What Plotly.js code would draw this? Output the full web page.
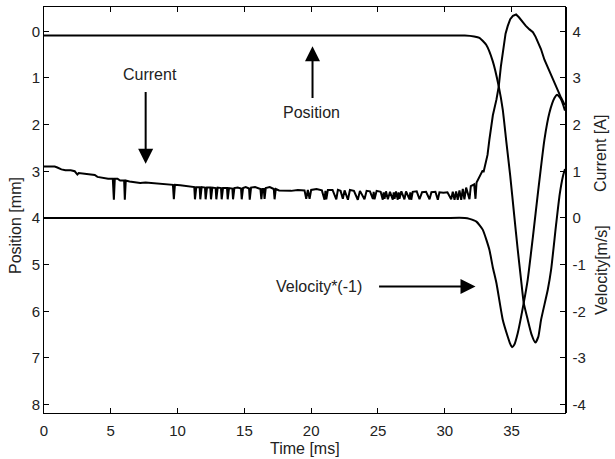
<!DOCTYPE html>
<html>
<head>
<meta charset="utf-8">
<script src="https://cdn.plot.ly/plotly-3.0.1.min.js"></script>
<style>html,body{margin:0;padding:0;background:#fff;}#chart{width:615px;height:459px;}</style>
</head>
<body>
<div id="chart"></div>
<script>
// Position [mm] (left axis, reversed)
const posTime = [0, 5, 10, 15, 20, 25, 30, 31.5, 32.2, 32.6, 33.1, 33.59, 34.04, 34.34, 34.59, 34.9, 35.2, 35.45, 35.71, 35.91, 36.21, 36.5, 36.78, 37.0, 37.21, 37.71, 37.96, 38.33, 38.6, 38.85, 39.0];
const posVal  = [0.09, 0.09, 0.09, 0.09, 0.09, 0.09, 0.09, 0.09, 0.11, 0.14, 0.29, 0.64, 1.18, 1.68, 2.32, 3.1, 3.95, 4.65, 5.32, 5.82, 6.18, 6.5, 6.67, 6.55, 6.18, 5.54, 5.11, 4.15, 3.5, 3.1, 2.95];

// Current [A] (right axis): [time ms, current A]
const currentPoints = [
  [0.0,1.10],[0.8,1.10],[1.0,1.08],[1.3,1.04],[1.6,1.02],[2.0,1.02],[2.3,1.00],[2.5,0.93],[2.6,0.96],[2.9,0.95],
  [3.2,0.94],[3.5,0.92],[3.8,0.92],[4.0,0.88],[4.4,0.86],[4.8,0.84],[5.15,0.84],[5.23,0.39],[5.3,0.84],[5.5,0.84],
  [5.7,0.80],[6.0,0.80],[6.05,0.39],[6.12,0.80],[6.4,0.78],[6.8,0.77],[7.2,0.75],[7.6,0.76],[8.0,0.75],[8.4,0.73],
  [8.8,0.73],[9.2,0.72],[9.65,0.71],[9.72,0.40],[9.8,0.71],[10.2,0.70],[10.6,0.68],[11.0,0.67],
  [11.25,0.66],[11.3,0.40],[11.4,0.66],[11.65,0.66],[11.7,0.40],[11.8,0.66],[12.05,0.65],[12.1,0.40],[12.2,0.65],
  [12.45,0.65],[12.5,0.40],[12.6,0.65],[12.85,0.64],[12.9,0.40],[13.0,0.65],[13.25,0.64],[13.3,0.40],[13.4,0.64],
  [13.7,0.64],[13.75,0.40],[13.85,0.64],[14.1,0.63],[14.15,0.40],[14.25,0.64],[14.5,0.65],[14.75,0.63],[14.8,0.40],
  [14.9,0.64],[15.1,0.66],[15.35,0.63],[15.4,0.39],[15.5,0.65],[15.8,0.66],[16.2,0.62],[16.27,0.40],[16.35,0.62],
  [16.45,0.62],[16.51,0.41],[16.6,0.64],[16.9,0.66],[17.2,0.62],[17.26,0.40],[17.35,0.62],[17.6,0.59],[18.0,0.58],
  [18.5,0.58],[19.0,0.60],[19.5,0.59],[19.63,0.41],[19.75,0.60],[19.88,0.41],[20.0,0.60],[20.4,0.62],[20.8,0.59],
  [21.0,0.39],[21.07,0.58],[21.13,0.40],[21.25,0.60],[21.6,0.60],[21.88,0.40],[22.0,0.60],[22.2,0.58],[22.37,0.41],
  [22.5,0.59],[22.75,0.39],[22.9,0.60],[23.2,0.58],[23.49,0.39],[23.65,0.58],[23.99,0.40],[24.15,0.58],[24.4,0.57],
  [24.62,0.41],[24.68,0.56],[24.74,0.40],[24.9,0.58],[25.2,0.56],[25.36,0.39],[25.42,0.55],[25.49,0.41],[25.6,0.57],
  [25.74,0.40],[25.9,0.56],[26.11,0.39],[26.18,0.55],[26.24,0.41],[26.35,0.57],[26.48,0.39],[26.55,0.55],[26.61,0.41],
  [26.75,0.57],[26.98,0.40],[27.1,0.57],[27.36,0.40],[27.42,0.55],[27.49,0.39],[27.6,0.56],[27.9,0.57],[28.11,0.40],
  [28.3,0.55],[28.6,0.56],[28.86,0.40],[29.0,0.55],[29.3,0.56],[29.48,0.39],[29.6,0.55],[29.9,0.54],[30.2,0.55],
  [30.48,0.40],[30.6,0.56],[30.73,0.39],[30.85,0.57],[30.97,0.39],[31.1,0.59],[31.23,0.39],[31.35,0.62],[31.47,0.40],
  [31.6,0.65],[31.85,0.40],[31.95,0.68],[32.2,0.72],[32.3,0.41],[32.38,0.76],[32.6,0.88],[32.75,0.95],[32.84,1.02],
  [32.9,0.98],[33.0,1.12],[33.1,1.20],[33.2,1.35],[33.34,1.68],[33.6,2.20],[33.87,2.54],[34.04,2.82],[34.2,3.25],
  [34.39,3.68],[34.55,3.95],[34.71,4.11],[34.9,4.26],[35.1,4.33],[35.34,4.36],[35.55,4.30],[35.8,4.20],[36.05,4.12],
  [36.34,4.04],[36.6,3.98],[36.8,3.88],[36.96,3.79],[37.2,3.62],[37.46,3.39],[37.8,3.17],[38.08,2.97],[38.3,2.83],
  [38.45,2.71],[38.7,2.58],[38.9,2.47],[39.0,2.42]
];
const curTime = currentPoints.map(p => p[0]);
const curVal  = currentPoints.map(p => p[1]);

// Velocity*(-1) [m/s] (right axis)
const velTime = [0, 5, 10, 15, 20, 25, 30, 31.5, 31.86, 32.37, 32.84, 33.34, 33.59, 33.87, 34.34, 34.71, 34.9, 35.04, 35.2, 35.46, 35.91, 36.21, 36.6, 37.0, 37.46, 37.83, 38.21, 38.41, 38.71, 38.9, 39.0];
const velVal  = [0, 0, 0, 0, 0, 0, 0, 0, -0.02, -0.08, -0.25, -0.68, -1.05, -1.4, -2.18, -2.54, -2.7, -2.77, -2.72, -2.47, -1.82, -1.32, -0.4, 0.6, 1.68, 2.25, 2.57, 2.64, 2.54, 2.39, 2.3];

const leftTicks = [0,1,2,3,4,5,6,7,8];
const rightTicks = [4,3,2,1,0,-1,-2,-3,-4];
const xTicks = [0,5,10,15,20,25,30,35];

const F = 'Liberation Sans, Arial, sans-serif';
const TC = '#222';
const tickF = {family:F, size:15, color:TC};
const textF = {family:F, size:16, color:TC};

const traces = [
  {x: posTime, y: posVal, mode:'lines', line:{color:'#000', width:2, shape:'spline', smoothing:0.5}, yaxis:'y', hoverinfo:'skip'},
  {x: curTime, y: curVal, mode:'lines', line:{color:'#000', width:2}, yaxis:'y2', hoverinfo:'skip'},
  {x: velTime, y: velVal, mode:'lines', line:{color:'#000', width:2, shape:'spline', smoothing:0.5}, yaxis:'y2', hoverinfo:'skip'}
];

function px2x(px){ return (px-44)/521; }
function py2y(py){ return (413-py)/406; }

const layout = {
  width: 615, height: 459,
  margin: {l:44, r:50, t:7, b:46},
  paper_bgcolor:'#fff', plot_bgcolor:'#fff',
  showlegend:false,
  font:tickF,
  xaxis:{range:[0,39], tickvals:xTicks, ticktext:xTicks.map(String), ticks:'inside', ticklen:5, tickcolor:'#000',
    showline:true, linecolor:'#000', linewidth:1, mirror:'ticks', showgrid:false, zeroline:false, tickfont:tickF, ticklabelstandoff:4},
  yaxis:{range:[8.18,-0.52], tickvals:leftTicks, ticktext:leftTicks.map(String), ticks:'inside', ticklen:5, tickcolor:'#000',
    showline:true, linecolor:'#000', linewidth:1, mirror:true, showgrid:false, zeroline:false, tickfont:tickF},
  yaxis2:{range:[-4.18,4.52], overlaying:'y', side:'right', tickvals:rightTicks, ticktext:rightTicks.map(String),
    ticks:'inside', ticklen:5, tickcolor:'#000', showline:true, linecolor:'#000', linewidth:1.5,
    showgrid:false, zeroline:false, tickfont:tickF, ticklabelstandoff:3},
  annotations:[
    {xref:'paper', yref:'paper', x:px2x(305), y:py2y(448), text:'Time [ms]', showarrow:false, xanchor:'center', yanchor:'middle', font:textF},
    {xref:'paper', yref:'paper', x:px2x(16), y:py2y(226), text:'Position [mm]', textangle:-90, showarrow:false, xanchor:'center', yanchor:'middle', font:textF},
    {xref:'paper', yref:'paper', x:px2x(601), y:py2y(154), text:'Current [A]', textangle:-90, showarrow:false, xanchor:'center', yanchor:'middle', font:textF},
    {xref:'paper', yref:'paper', x:px2x(601), y:py2y(270), text:'Velocity[m/s]', textangle:-90, showarrow:false, xanchor:'center', yanchor:'middle', font:textF},
    {xref:'x', yref:'y', x:7.91, y:0.93, text:'Current', showarrow:false, font:textF},
    {xref:'x', yref:'y', x:20.05, y:1.75, text:'Position', showarrow:false, font:textF},
    {xref:'x', yref:'y', x:20.6, y:5.47, text:'Velocity*(-1)', showarrow:false, font:textF},
    {xref:'x', yref:'y', axref:'x', ayref:'y', x:7.61, y:2.84, ax:7.61, ay:1.27, text:'', showarrow:true, arrowhead:2, arrowsize:1.5, arrowwidth:2, arrowcolor:'#000'},
    {xref:'x', yref:'y', axref:'x', ayref:'y', x:20.1, y:0.32, ax:20.1, ay:1.46, text:'', showarrow:true, arrowhead:2, arrowsize:1.5, arrowwidth:2, arrowcolor:'#000'},
    {xref:'x', yref:'y', axref:'x', ayref:'y', x:32.3, y:5.47, ax:24.97, ay:5.47, text:'', showarrow:true, arrowhead:2, arrowsize:1.5, arrowwidth:2, arrowcolor:'#000'}
  ]
};

Plotly.newPlot('chart', traces, layout, {staticPlot:true, displayModeBar:false});
</script>
</body>
</html>
